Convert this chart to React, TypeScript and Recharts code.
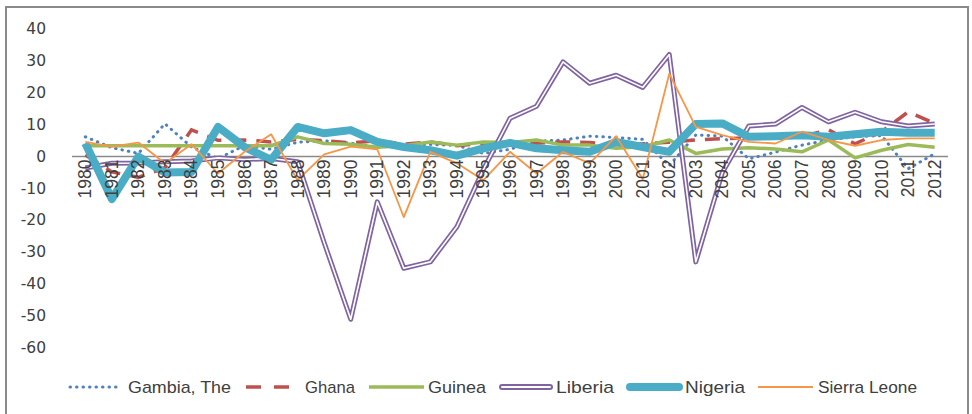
import React from 'react';
import { LineChart, Line, XAxis, YAxis, ReferenceLine } from 'recharts';

const years = ['1980','1981','1982','1983','1984','1985','1986','1987','1988','1989','1990','1991','1992','1993','1994','1995','1996','1997','1998','1999','2000','2001','2002','2003','2004','2005','2006','2007','2008','2009','2010','2011','2012'];

const gambia = [6.2, 2.8, 1.0, 10.3, 3.0, -0.6, 3.5, 2.3, 4.5, 5.0, 4.2, 3.0, 3.5, 3.8, 3.5, 1.0, 2.3, 4.8, 5.2, 6.4, 6.0, 5.4, -2.8, 6.8, 6.4, -0.7, 1.4, 3.6, 5.2, 6.2, 6.6, -3.8, 0.9];
const ghana = [0.5, -4.8, -6.5, -3.5, 8.4, 5.1, 5.2, 4.6, 5.4, 5.0, 4.3, 5.0, 3.9, 4.6, 3.4, 4.1, 4.5, 4.2, 4.6, 4.4, 3.7, 4.0, 4.5, 5.2, 5.6, 5.9, 6.2, 6.3, 8.4, 4.0, 7.8, 14.0, 10.4];
const guinea = [3.4, 3.4, 3.4, 3.4, 3.4, 3.4, 3.4, 3.4, 6.2, 4.1, 3.9, 2.9, 3.4, 4.6, 3.6, 4.6, 4.4, 5.2, 3.6, 3.6, 2.6, 3.1, 5.2, 1.0, 2.4, 2.8, 2.4, 1.5, 5.2, -0.4, 2.0, 3.8, 2.9];
const liberia = [-3.6, -2.1, -2.0, -1.6, -1.4, -0.4, -0.9, -0.6, -1.6, -27, -51, -14.2, -35, -33, -22, -4, 12, 15.8, 29.7, 23, 25.5, 21.7, 32, -33, -5, 9.6, 10.2, 15.4, 10.9, 13.9, 10.9, 9.6, 10.2];
const nigeria = [4.2, -13.3, 0.0, -5.0, -4.8, 9.3, 3.0, -1.0, 9.3, 7.3, 8.3, 4.6, 3.0, 2.0, 0.3, 2.6, 4.3, 2.6, 2.0, 1.5, 4.6, 3.0, 1.5, 10.2, 10.4, 6.2, 6.4, 6.7, 6.2, 7.0, 7.8, 7.5, 7.5];
const sierraLeone = [4.6, 3.1, 4.4, -2.1, 3.9, -5.3, 1.5, 7.0, -7.4, 0.7, 3.1, 2.3, -19, 1.5, -2.1, -7.4, 1.5, -5.3, 1.5, -2.1, 6.4, -7.0, 26, 9.3, 6.7, 4.6, 4.1, 7.8, 5.2, 3.4, 5.2, 5.7, 5.7];

const yTicks = [40, 30, 20, 10, 0, -10, -20, -30, -40, -50, -60];

const data = years.map((y, i) => ({
  year: y,
  gambia: gambia[i],
  ghana: ghana[i],
  guinea: guinea[i],
  liberia: liberia[i],
  liberiaInner: liberia[i],
  nigeria: nigeria[i],
  sierraLeone: sierraLeone[i],
}));

const W = 972;
const H = 414;
const TOP = 29;
const BOTTOM = 66;
const Y_MAX = 40;
const Y_MIN = -60;
const PLOT_H = H - TOP - BOTTOM;
const ZERO_Y = TOP + ((Y_MAX - 0) / (Y_MAX - Y_MIN)) * PLOT_H;

const C = {
  gambia: '#4F81BD',
  ghana: '#C0504D',
  guinea: '#9BBB59',
  liberia: '#8064A2',
  nigeria: '#4BACC6',
  sierra: '#F79646',
  text: '#404040',
};

const YTick = (props: any) => {
  const { y, payload } = props;
  return (
    <text x={46} y={y} textAnchor="end" dominantBaseline="central" fontFamily="'DejaVu Sans', sans-serif" fontSize={15.5} fill={C.text}>
      {payload.value}
    </text>
  );
};

const XTick = (props: any) => {
  const { x, payload } = props;
  return (
    <text transform={`translate(${x + 6}, ${ZERO_Y + 3}) rotate(-90)`} textAnchor="end" fontFamily="'Liberation Sans', Arial, sans-serif" fontSize={17.5} fill={C.text}>
      {payload.value}
    </text>
  );
};

const legendItems = [
  { name: 'Gambia, The', kind: 'gambia', ix: 68, iw: 49, tx: 128, tw: 103 },
  { name: 'Ghana', kind: 'ghana', ix: 246, iw: 43, tx: 305, tw: 50 },
  { name: 'Guinea', kind: 'guinea', ix: 369, iw: 55, tx: 428, tw: 58 },
  { name: 'Liberia', kind: 'liberia', ix: 499, iw: 54, tx: 556, tw: 58 },
  { name: 'Nigeria', kind: 'nigeria', ix: 626, iw: 57, tx: 685, tw: 60 },
  { name: 'Sierra Leone', kind: 'sierra', ix: 758, iw: 55, tx: 818, tw: 99 },
];

const LegendIcon = ({ kind, x, w, y }: any) => {
  const x2 = x + w;
  switch (kind) {
    case 'gambia':
      return <line x1={x + 2} x2={x2} y1={y} y2={y} stroke={C.gambia} strokeWidth={3} strokeDasharray="0.5 6" strokeLinecap="round" />;
    case 'ghana':
      return <line x1={x} x2={x2} y1={y} y2={y} stroke={C.ghana} strokeWidth={3.5} strokeDasharray="15 13" />;
    case 'guinea':
      return <line x1={x} x2={x2} y1={y} y2={y} stroke={C.guinea} strokeWidth={3.5} />;
    case 'liberia':
      return (
        <g>
          <line x1={x + 3} x2={x2 - 3} y1={y} y2={y} stroke={C.liberia} strokeWidth={6} strokeLinecap="round" />
          <line x1={x + 3} x2={x2 - 3} y1={y} y2={y} stroke="#fff" strokeWidth={2} strokeLinecap="round" />
        </g>
      );
    case 'nigeria':
      return <line x1={x + 4} x2={x2 - 4} y1={y} y2={y} stroke={C.nigeria} strokeWidth={8} strokeLinecap="round" />;
    default:
      return <line x1={x} x2={x2} y1={y} y2={y} stroke={C.sierra} strokeWidth={1.8} />;
  }
};

const CustomLegend = () => (
  <svg width={W} height={30} style={{ display: 'block' }}>
    {legendItems.map((it) => (
      <g key={it.name}>
        <LegendIcon kind={it.kind} x={it.ix} w={it.iw} y={13} />
        <text x={it.tx} y={19} fontFamily="'Liberation Sans Narrow', 'Liberation Sans', sans-serif" fontSize={17} fill={C.text} textLength={it.tw} lengthAdjust="spacingAndGlyphs">
          {it.name}
        </text>
      </g>
    ))}
  </svg>
);

export default function App() {
  return (
    <div style={{ position: 'absolute', left: 0, top: 0, width: W, height: H, background: '#fff', overflow: 'hidden' }}>
      <div style={{ position: 'absolute', left: 5, top: 6, width: 964, height: 420, border: '2px solid #8a8a8a', boxSizing: 'border-box' }} />
      <div style={{ position: 'absolute', left: 0, top: 0 }}>
        <LineChart width={W} height={H} data={data} margin={{ top: TOP, right: 24, bottom: BOTTOM - 1, left: 0 }}>
          <XAxis dataKey="year" type="category" interval={0} axisLine={false} tickLine={false} height={1} tick={<XTick />} padding={{ left: 13.3, right: 13.3 }} />
          <YAxis type="number" domain={[Y_MIN, Y_MAX]} ticks={yTicks} interval={0} width={72} axisLine={false} tickLine={false} tick={<YTick />} />
          <ReferenceLine y={0} stroke="#8a8a8a" strokeWidth={1.5} />
          <Line dataKey="gambia" stroke={C.gambia} strokeWidth={3} strokeDasharray="0.5 6" strokeLinecap="round" dot={false} isAnimationActive={false} />
          <Line dataKey="ghana" stroke={C.ghana} strokeWidth={3.5} strokeDasharray="15 10" dot={false} isAnimationActive={false} />
          <Line dataKey="guinea" stroke={C.guinea} strokeWidth={3.5} strokeLinejoin="round" dot={false} isAnimationActive={false} />
          <Line dataKey="liberia" stroke={C.liberia} strokeWidth={5} strokeLinejoin="round" dot={false} isAnimationActive={false} />
          <Line dataKey="liberiaInner" stroke="#ffffff" strokeWidth={1.6} strokeLinejoin="round" dot={false} isAnimationActive={false} />
          <Line dataKey="nigeria" stroke={C.nigeria} strokeWidth={8} strokeLinejoin="round" dot={false} isAnimationActive={false} />
          <Line dataKey="sierraLeone" stroke={C.sierra} strokeWidth={1.8} strokeLinejoin="round" dot={false} isAnimationActive={false} />
        </LineChart>
      </div>
      <div style={{ position: 'absolute', left: 0, top: 374 }}>
        <CustomLegend />
      </div>
    </div>
  );
}
